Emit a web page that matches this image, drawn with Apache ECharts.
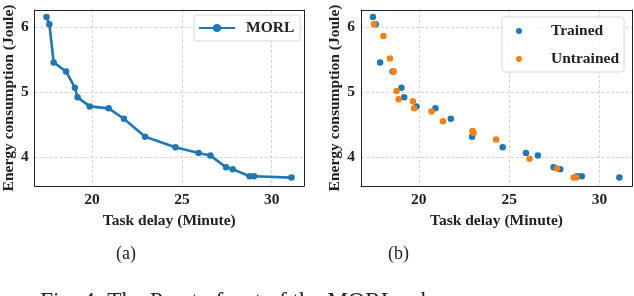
<!DOCTYPE html>
<html><head><meta charset="utf-8">
<script src="https://cdn.jsdelivr.net/npm/echarts@6/dist/echarts.min.js"></script>
<style>html,body{margin:0;padding:0;background:#fff}#c{width:634px;height:296px}</style>
</head><body><div id="c"></div>
<script>
// Trained / MORL Pareto front (task delay in minutes, energy in Joule)
var morlDelay  = [17.46, 17.62, 17.86, 18.55, 19.04, 19.19, 19.87, 20.92, 21.77, 22.95, 24.64, 25.93, 26.59, 27.46, 27.83, 28.77, 29.02, 31.10];
var morlEnergy = [6.16, 6.05, 5.46, 5.32, 5.07, 4.92, 4.78, 4.75, 4.59, 4.31, 4.15, 4.06, 4.02, 3.84, 3.81, 3.70, 3.70, 3.68];
// Untrained
var untrDelay  = [17.52, 18.04, 18.40, 18.61, 18.77, 18.88, 19.67, 19.74, 20.70, 21.34, 22.97, 23.03, 24.28, 26.13, 27.65, 28.57, 28.72];
var untrEnergy = [6.05, 5.87, 5.52, 5.32, 5.02, 4.89, 4.86, 4.75, 4.70, 4.55, 4.40, 4.37, 4.27, 3.97, 3.82, 3.68, 3.68];
var xTicks = [20, 25, 30];
var yTicks = [4, 5, 6];
var xLabel = 'Task delay (Minute)';
var yLabel = 'Energy consumption (Joule)';
var captions = ['(a)', '(b)'];
var figCaption = 'Fig. 4: The Pareto front of the MORL scheme.';

function pairs(xs, ys){ return xs.map(function(x,i){ return [x, ys[i]]; }); }

var FONT = 'Liberation Serif';
var blue = '#1f77b4', orange = '#ff7f0e';

function xAxis(idx){
  return {
    type:'value', gridIndex: idx, min:16.8, max:31.8,
    name: xLabel, nameLocation:'middle', nameGap: 21,
    nameTextStyle:{fontFamily:FONT, fontWeight:'bold', fontSize:15.5, color:'#222'},
    axisLine:{show:true, onZero:false, lineStyle:{color:'#222', width:1}},
    axisTick:{show:false, customValues:xTicks},
    axisLabel:{customValues:xTicks, fontFamily:FONT, fontWeight:'bold', fontSize:15.5, color:'#222', margin:6},
    splitLine:{show:true, customValues:xTicks, lineStyle:{color:'#c8c8c8', type:[3,2], width:0.8}}
  };
}
function yAxis(idx){
  return {
    type:'value', gridIndex: idx, min:3.55, max:6.27,
    name: yLabel, nameLocation:'middle', nameGap: 16, nameRotate:90,
    nameTextStyle:{fontFamily:FONT, fontWeight:'bold', fontSize:15.5, color:'#222'},
    axisLine:{show:true, onZero:false, lineStyle:{color:'#222', width:1}},
    axisTick:{show:false, customValues:yTicks},
    axisLabel:{customValues:yTicks, fontFamily:FONT, fontWeight:'bold', fontSize:15.5, color:'#222', margin:6},
    splitLine:{show:true, customValues:yTicks, lineStyle:{color:'#c8c8c8', type:[3,2], width:0.8}}
  };
}
function frameX(idx){ // top spine
  return {type:'value', gridIndex:idx, position:'top', min:16.8, max:31.8,
    axisLine:{show:true, onZero:false, lineStyle:{color:'#222'}}, axisTick:{show:false}, axisLabel:{show:false}, splitLine:{show:false}};
}
function frameY(idx){ // right spine
  return {type:'value', gridIndex:idx, position:'right', min:3.55, max:6.27,
    axisLine:{show:true, onZero:false, lineStyle:{color:'#222'}}, axisTick:{show:false}, axisLabel:{show:false}, splitLine:{show:false}};
}

var chart = echarts.init(document.getElementById('c'), null, {renderer:'canvas'});
chart.setOption({
  animation:false,
  textStyle:{fontFamily:FONT},
  grid:[
    {left:32.5, top:10, width:271.5, height:176},
    {left:361, top:10, width:271, height:176}
  ],
  xAxis:[xAxis(0), xAxis(1), frameX(0), frameX(1)],
  yAxis:[yAxis(0), yAxis(1), frameY(0), frameY(1)],
  legend:[
    {data:['MORL'], left:194, top:15, orient:'vertical', itemWidth:36, itemHeight:10, itemGap:6,
     padding:[5,6,5,4], borderColor:'#d8d8d8', borderWidth:1, borderRadius:3, backgroundColor:'rgba(255,255,255,0.85)',
     textStyle:{fontFamily:FONT, fontWeight:'bold', fontSize:15.5, color:'#222', padding:[0,0,0,6]}},
    {data:['Trained','Untrained'], left:502, top:17, orient:'vertical', itemWidth:14, itemHeight:6, itemGap:12,
     padding:[6,5,5,14], borderColor:'#d8d8d8', borderWidth:1, borderRadius:3, backgroundColor:'rgba(255,255,255,0.85)',
     textStyle:{fontFamily:FONT, fontWeight:'bold', fontSize:15.5, color:'#222', padding:[0,0,0,20]}}
  ],
  series:[
    {name:'MORL', type:'line', xAxisIndex:0, yAxisIndex:0, data:pairs(morlDelay, morlEnergy),
     symbol:'circle', symbolSize:6.5, lineStyle:{color:blue, width:2.6}, itemStyle:{color:blue}},
    {name:'Trained', type:'scatter', xAxisIndex:1, yAxisIndex:1, data:pairs(morlDelay, morlEnergy),
     symbol:'circle', symbolSize:6.5, itemStyle:{color:blue, opacity:1}},
    {name:'Untrained', type:'scatter', xAxisIndex:1, yAxisIndex:1, data:pairs(untrDelay, untrEnergy),
     symbol:'circle', symbolSize:6.5, itemStyle:{color:orange, opacity:1}}
  ],
  graphic:[
    {type:'text', left:116, top:245, style:{text:captions[0], font:'18px "Liberation Serif"', fill:'#222'}},
    {type:'text', left:388, top:245, style:{text:captions[1], font:'18px "Liberation Serif"', fill:'#222'}},
    {type:'text', left:40, top:290, style:{text:figCaption, font:'23.5px "Liberation Serif"', fill:'#222'}}
  ]
});
</script></body></html>
